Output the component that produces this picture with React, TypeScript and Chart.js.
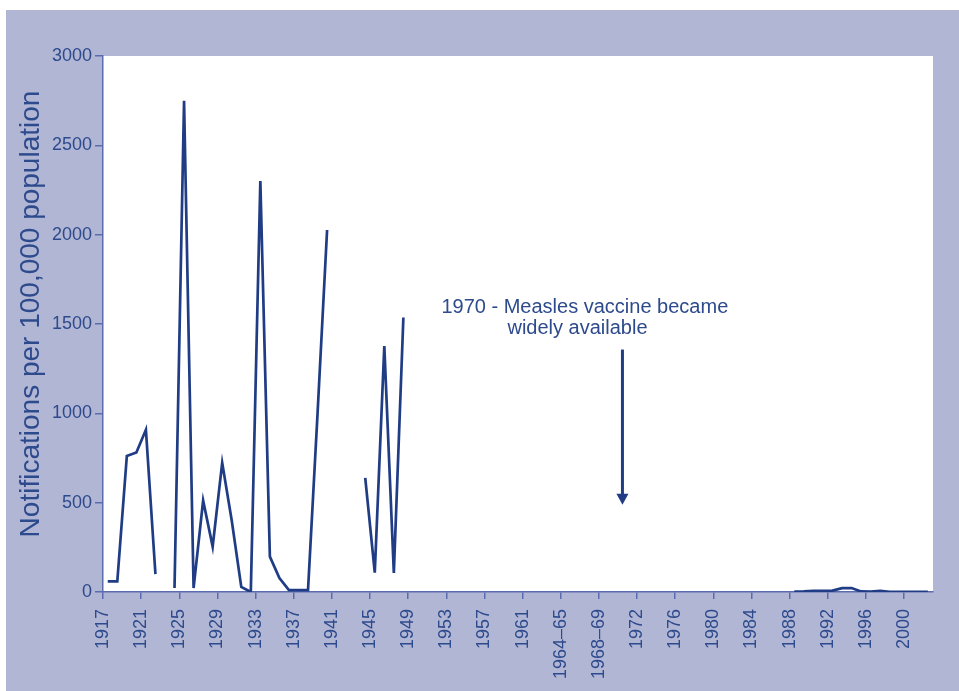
import React, { useEffect, useRef } from "react";
import { Chart, registerables } from "chart.js";

Chart.register(...registerables);

// ---- data ----
const X_LABELS = [
  "1917", "1921", "1925", "1929", "1933", "1937", "1941", "1945", "1949",
  "1953", "1957", "1961", "1964–65", "1968–69", "1972", "1976", "1980",
  "1984", "1988", "1992", "1996", "2000",
];

const EARLY_YEARS = [
  1917, 1918, 1919, 1920, 1921, 1922, 1923, 1924, 1925, 1926, 1927, 1928,
  1929, 1930, 1931, 1932, 1933, 1934, 1935, 1936, 1937, 1938, 1939, 1940,
  1941, 1942, 1943, 1944, 1945, 1946, 1947, 1948, 1949,
];
const EARLY_VALUES: (number | null)[] = [
  60, 60, 762, 781, 908, 100, null, 22, 2750, 22, 512, 254,
  723, 400, 28, 0, 2300, 198, 78, 11, 11, 11, 1000, 2026,
  null, null, null, 639, 108, 1376, 106, 1536, null,
];

const LATE_YEARS = [
  1988, 1989, 1990, 1991, 1992, 1993, 1994, 1995, 1996, 1997, 1998, 1999,
  2000, 2001, 2002,
];
const LATE_VALUES: number[] = [2, 3, 6, 6, 8, 22, 22, 3, 2, 6, 1, 1, 1, 1, 1];

const Y_TICKS = [0, 500, 1000, 1500, 2000, 2500, 3000];

const Y_TITLE = "Notifications per 100,000 population";
const NOTE_LINE_1 = "1970 - Measles vaccine became";
const NOTE_LINE_2 = "widely available";
const NOTE_YEAR = 1970.6;

// ---- helpers ----
// axis is compressed between 1961 and 1972 (two combined-period ticks)
function yearToUnit(y: number): number {
  if (y <= 1961) return (y - 1917) / 4;
  if (y >= 1972) return 14 + (y - 1972) / 4;
  return 11 + ((y - 1961) / 11) * 3;
}

const NAVY = "#1f3c84";
const TEXT = "#2d4a8c";
const AXIS = "#5a6cae";
const LAVENDER = "#b2b6d5";
const FONT = '"Liberation Sans", Arial, sans-serif';

export default function App() {
  const ref = useRef<HTMLCanvasElement | null>(null);

  useEffect(() => {
    if (!ref.current) return;
    const pts: { x: number; y: number | null }[] = [];
    EARLY_YEARS.forEach((yr, i) => pts.push({ x: yearToUnit(yr + 0.5), y: EARLY_VALUES[i] }));
    LATE_YEARS.forEach((yr, i) => pts.push({ x: yearToUnit(yr + 0.5), y: LATE_VALUES[i] }));

    const decor = {
      id: "decor",
      beforeDraw(chart: any) {
        const { ctx, chartArea } = chart;
        ctx.save();
        ctx.fillStyle = LAVENDER;
        ctx.fillRect(0, 0, chart.width, chart.height);
        ctx.fillStyle = "#ffffff";
        ctx.fillRect(chartArea.left, chartArea.top, chartArea.right - chartArea.left, chartArea.bottom - chartArea.top);
        ctx.restore();
      },
      afterDraw(chart: any) {
        const { ctx, chartArea } = chart;
        const xs = chart.scales.x;
        const ys = chart.scales.y;
        ctx.save();
        // y title
        ctx.translate(25, (chartArea.top + chartArea.bottom) / 2 - 10);
        ctx.rotate(-Math.PI / 2);
        ctx.fillStyle = TEXT;
        ctx.font = `28px ${FONT}`;
        ctx.textAlign = "center";
        ctx.textBaseline = "middle";
        ctx.fillText(Y_TITLE, 0, 0);
        ctx.restore();

        // annotation
        const ax = xs.getPixelForValue(yearToUnit(NOTE_YEAR));
        const aTop = ys.getPixelForValue(1357);
        const aBot = ys.getPixelForValue(488);
        ctx.save();
        ctx.fillStyle = TEXT;
        ctx.font = `20px ${FONT}`;
        ctx.textAlign = "left";
        ctx.textBaseline = "alphabetic";
        ctx.fillText(NOTE_LINE_1, ax - 181, aTop - 37);
        ctx.fillText(NOTE_LINE_2, ax - 115, aTop - 16);
        ctx.strokeStyle = NAVY;
        ctx.lineWidth = 3;
        ctx.beginPath();
        ctx.moveTo(ax, aTop);
        ctx.lineTo(ax, aBot - 8);
        ctx.stroke();
        ctx.fillStyle = NAVY;
        ctx.beginPath();
        ctx.moveTo(ax - 6, aBot - 11);
        ctx.lineTo(ax + 6, aBot - 11);
        ctx.lineTo(ax, aBot);
        ctx.closePath();
        ctx.fill();
        ctx.restore();
      },
    };

    const chart = new Chart(ref.current, {
      type: "line",
      data: {
        datasets: [
          {
            data: pts as any,
            borderColor: NAVY,
            borderWidth: 2.7,
            pointRadius: 0,
            tension: 0,
            spanGaps: false,
            fill: false,
          },
        ],
      },
      options: {
        responsive: false,
        animation: false,
        layout: { padding: { left: 0, top: 46, right: 26, bottom: 0 } },
        plugins: {
          legend: { display: false },
          tooltip: { enabled: false },
        },
        scales: {
          x: {
            type: "linear",
            min: 0,
            max: 21.76,
            afterBuildTicks(scale: any) {
              scale.ticks = X_LABELS.map((_, i) => ({ value: i }));
            },
            afterFit(scale: any) {
              scale.height = 99;
            },
            ticks: {
              autoSkip: false,
              minRotation: 90,
              maxRotation: 90,
              padding: 10,
              color: TEXT,
              font: { family: FONT, size: 18 },
              callback: (v: any) => X_LABELS[Math.round(Number(v))] ?? "",
            },
            grid: {
              drawOnChartArea: false,
              drawTicks: true,
              tickLength: 7,
              color: AXIS,
              lineWidth: 1.5,
            },
            border: { color: AXIS, width: 1.5 },
          },
          y: {
            type: "linear",
            min: 0,
            max: 3000,
            afterBuildTicks(scale: any) {
              scale.ticks = Y_TICKS.map((v) => ({ value: v }));
            },
            afterFit(scale: any) {
              scale.width = 97;
            },
            ticks: {
              padding: 3,
              color: TEXT,
              font: { family: FONT, size: 18 },
              callback: (v: any) => String(v),
            },
            grid: {
              drawOnChartArea: false,
              drawTicks: true,
              tickLength: 8,
              color: AXIS,
              lineWidth: 1.5,
            },
            border: { color: AXIS, width: 1.5 },
          },
        },
      },
      plugins: [decor],
    });
    return () => chart.destroy();
  }, []);

  return (
    <div style={{ position: "absolute", left: 6, top: 10, width: 953, height: 681 }}>
      <canvas ref={ref} width={953} height={681} style={{ display: "block", width: 953, height: 681 }} />
    </div>
  );
}
